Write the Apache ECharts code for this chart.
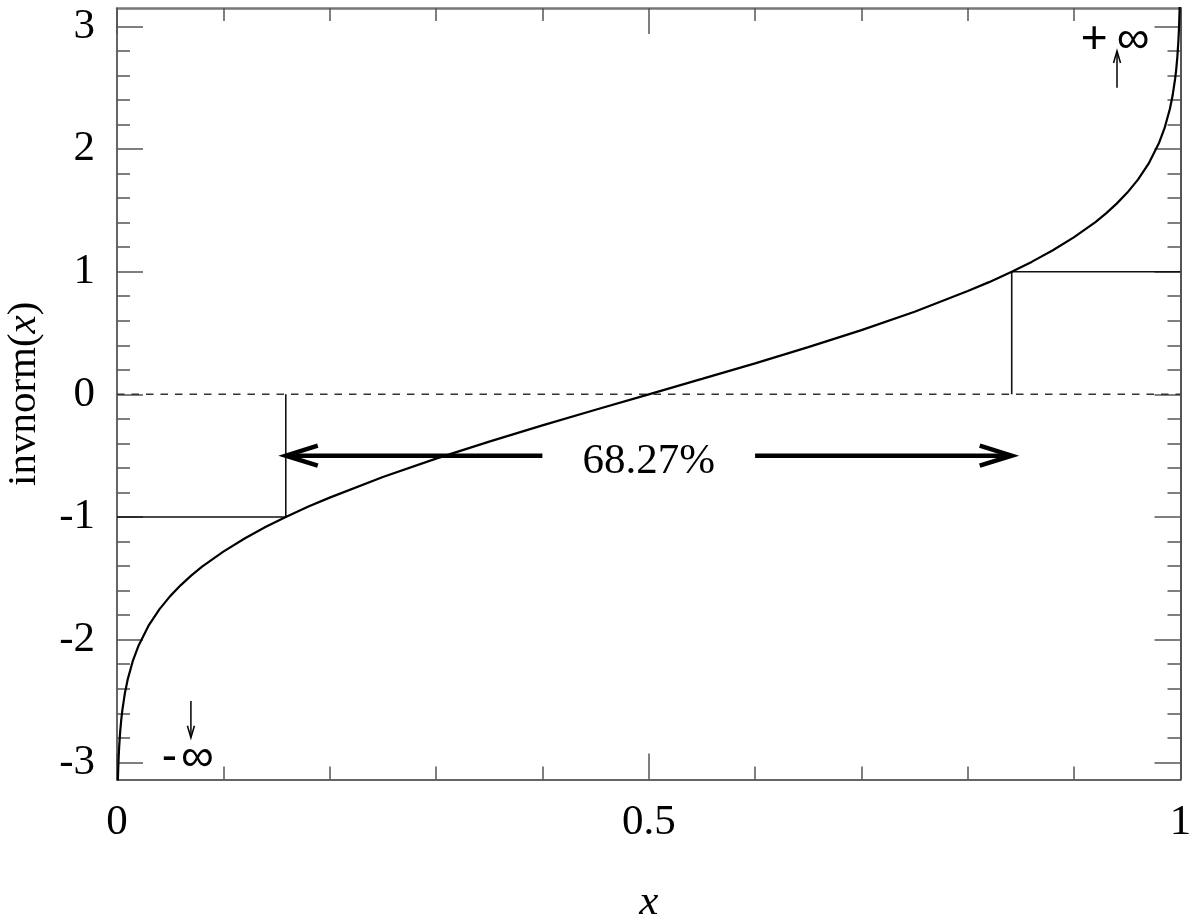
<!DOCTYPE html>
<html>
<head>
<meta charset="utf-8">
<script src="https://cdn.jsdelivr.net/npm/echarts@6/dist/echarts.min.js"></script>
<style>
  html, body { margin: 0; background: #fff; }
  #main { width: 1200px; height: 920px; }
</style>
</head>
<body>
<div id="main"></div>
<script>
  // curve
  const curveX = [0.0005, 0.0008, 0.001, 0.0015, 0.002, 0.003, 0.004, 0.005, 0.0075, 0.01, 0.015, 0.02,
    0.03, 0.04, 0.05, 0.06, 0.07, 0.08, 0.1, 0.12, 0.14, 0.1587, 0.18, 0.2, 0.25, 0.3, 0.35, 0.4, 0.45,
    0.5, 0.55, 0.6, 0.65, 0.7, 0.75, 0.8, 0.82, 0.8413, 0.86, 0.88, 0.9, 0.92, 0.93, 0.94, 0.95, 0.96,
    0.97, 0.98, 0.985, 0.99, 0.9925, 0.995, 0.996, 0.997, 0.998, 0.9985, 0.999, 0.9992, 0.9995];
  const curveY = [-3.29, -3.156, -3.09, -2.968, -2.878, -2.748, -2.652, -2.576, -2.432, -2.326, -2.17, -2.054,
    -1.881, -1.751, -1.645, -1.555, -1.476, -1.405, -1.282, -1.175, -1.08, -1.0, -0.915, -0.842, -0.674, -0.524, -0.385, -0.253, -0.126,
    0, 0.126, 0.253, 0.385, 0.524, 0.674, 0.842, 0.915, 1.0, 1.08, 1.175, 1.282, 1.405, 1.476, 1.555, 1.645, 1.751,
    1.881, 2.054, 2.17, 2.326, 2.432, 2.576, 2.652, 2.748, 2.878, 2.968, 3.09, 3.156, 3.29];

  const xMinorTicks = [0, 0.1, 0.2, 0.3, 0.4, 0.5, 0.6, 0.7, 0.8, 0.9, 1];
  const xMajorTicks = [0, 0.5, 1];
  const xLabels = [0, 0.5, 1];
  const yMajorTicks = [-3, -2, -1, 0, 1, 2, 3];
  const yMinorTicks = [-3, -2.8, -2.6, -2.4, -2.2, -2, -1.8, -1.6, -1.4, -1.2, -1, -0.8, -0.6, -0.4, -0.2, 0,
    0.2, 0.4, 0.6, 0.8, 1, 1.2, 1.4, 1.6, 1.8, 2, 2.2, 2.4, 2.6, 2.8, 3];
  const yMin = -3.14, yMax = 3.15;

  // one-sigma guides
  const zeroLineX = [0, 1];
  const leftGuideX = [0, 0.1587, 0.1587];
  const leftGuideY = [-1, -1, 0];
  const rightGuideX = [0.8413, 0.8413, 1];
  const rightGuideY = [0, 1, 1];

  // 68.27% band arrows: start x, tip x, at y
  const bandArrowFrom = [0.4, 0.6];
  const bandArrowTo = [0.1587, 0.8413];
  const bandArrowY = -0.5;
  const bandText = '68.27%';

  // infinity markers
  const infText = ['-\u200A∞', '+\u2009∞'];
  const infArrowX = [0.0695, 0.9403];
  const infArrowFrom = [-2.5, 2.5];
  const infArrowTo = [-2.8, 2.8];
  const infTextX = [0.0665, 0.9385];
  const infTextY = [-2.965, 2.885];

  const serif = '"Liberation Serif", "Times New Roman", serif';
  const pair = (xs, ys) => xs.map((x, i) => [x, ys[i]]);

  function arrowSeries(data, width, headLen, headHalf) {
    return {
      type: 'custom',
      coordinateSystem: 'cartesian2d',
      silent: true,
      z: 6,
      encode: { x: [0, 2], y: [1, 3] },
      data: data,
      renderItem: function (params, api) {
        const a = api.coord([api.value(0), api.value(1)]);
        const b = api.coord([api.value(2), api.value(3)]);
        const dx = b[0] - a[0], dy = b[1] - a[1];
        const len = Math.sqrt(dx * dx + dy * dy);
        const ux = dx / len, uy = dy / len;
        const p1 = [b[0] - ux * headLen - uy * headHalf, b[1] - uy * headLen + ux * headHalf];
        const p2 = [b[0] - ux * headLen + uy * headHalf, b[1] - uy * headLen - ux * headHalf];
        return {
          type: 'group',
          children: [
            { type: 'line', shape: { x1: a[0], y1: a[1], x2: b[0] - ux * width * 0.5, y2: b[1] - uy * width * 0.5 },
              style: { stroke: '#000', lineWidth: width } },
            { type: 'polyline', shape: { points: [p1, b, p2] },
              style: { stroke: '#000', fill: null, lineWidth: width, lineJoin: 'miter' } }
          ]
        };
      }
    };
  }

  function textSeries(data, fontFamily, fontSize, dy) {
    return {
      type: 'custom',
      coordinateSystem: 'cartesian2d',
      silent: true,
      z: 7,
      data: data,
      renderItem: function (params, api) {
        const p = api.coord([api.value(0), api.value(1)]);
        return {
          type: 'text',
          x: p[0], y: p[1] + dy,
          style: { text: data[params.dataIndex][2], fill: '#000', fontFamily: fontFamily, fontSize: fontSize,
            align: 'center', verticalAlign: 'middle' }
        };
      }
    };
  }

  const tickLine = { color: '#555', width: 1.5 };
  const baseX = { type: 'value', min: 0, max: 1, splitLine: { show: false } };
  const baseY = { type: 'value', min: yMin, max: yMax, splitLine: { show: false } };

  let myChart = echarts.init(document.getElementById('main'));
  let option = {
    animation: false,
    backgroundColor: '#fff',
    grid: { left: 117, right: 19.5, top: 8, bottom: 140.5, containLabel: false, outerBoundsMode: 'none' },
    xAxis: [
      { ...baseX, position: 'bottom',
        axisLine: { onZero: false, lineStyle: { color: '#333', width: 1.5 } },
        axisTick: { inside: true, length: 13, customValues: xMinorTicks, lineStyle: tickLine },
        axisLabel: { customValues: xLabels, color: '#000', fontFamily: serif, fontSize: 43, margin: 22 },
        name: 'x', nameLocation: 'middle', nameGap: 102,
        nameTextStyle: { color: '#000', fontFamily: serif, fontSize: 43, fontStyle: 'italic' } },
      { ...baseX, position: 'bottom', axisLine: { show: false, onZero: false },
        axisTick: { inside: true, length: 26, customValues: xMajorTicks, lineStyle: tickLine },
        axisLabel: { show: false } },
      { ...baseX, position: 'top',
        axisLine: { onZero: false, lineStyle: { color: '#777', width: 2.5 } },
        axisTick: { inside: true, length: 13, customValues: xMinorTicks, lineStyle: tickLine },
        axisLabel: { show: false } },
      { ...baseX, position: 'top', axisLine: { show: false, onZero: false },
        axisTick: { inside: true, length: 26, customValues: xMajorTicks, lineStyle: tickLine },
        axisLabel: { show: false } }
    ],
    yAxis: [
      { ...baseY, position: 'left',
        axisLine: { onZero: false, lineStyle: { color: '#333', width: 1.5 } },
        axisTick: { inside: true, length: 26, customValues: yMajorTicks, lineStyle: tickLine },
        axisLabel: { customValues: yMajorTicks, color: '#000', fontFamily: serif, fontSize: 43, margin: 22 },
        name: '{a|invnorm(}{b|x}{a|)}', nameLocation: 'middle', nameGap: 72, nameRotate: 90,
        nameTextStyle: { rich: {
          a: { color: '#000', fontFamily: serif, fontSize: 41 },
          b: { color: '#000', fontFamily: serif, fontSize: 41, fontStyle: 'italic' } } } },
      { ...baseY, position: 'left', axisLine: { show: false, onZero: false },
        axisTick: { inside: true, length: 13, customValues: yMinorTicks, lineStyle: tickLine },
        axisLabel: { show: false } },
      { ...baseY, position: 'right',
        axisLine: { onZero: false, lineStyle: { color: '#555', width: 2 } },
        axisTick: { inside: true, length: 26, customValues: yMajorTicks, lineStyle: tickLine },
        axisLabel: { show: false } },
      { ...baseY, position: 'right', axisLine: { show: false, onZero: false },
        axisTick: { inside: true, length: 13, customValues: yMinorTicks, lineStyle: tickLine },
        axisLabel: { show: false } }
    ],
    series: [
      { type: 'line', data: pair(zeroLineX, [0, 0]), showSymbol: false, silent: true,
        lineStyle: { color: '#333', width: 1.5, type: [7.5, 7] } },
      { type: 'line', data: pair(leftGuideX, leftGuideY), showSymbol: false, silent: true,
        lineStyle: { color: '#111', width: 1.6 } },
      { type: 'line', data: pair(rightGuideX, rightGuideY), showSymbol: false, silent: true,
        lineStyle: { color: '#111', width: 1.6 } },
      { type: 'line', data: pair(curveX, curveY), showSymbol: false, silent: true, z: 4,
        lineStyle: { color: '#000', width: 2.2 } },
      arrowSeries(bandArrowFrom.map((x, i) => [x, bandArrowY, bandArrowTo[i], bandArrowY]), 4.5, 32, 10),
      arrowSeries(infArrowX.map((x, i) => [x, infArrowFrom[i], x, infArrowTo[i]]), 1.5, 12, 3.5),
      textSeries([[0.5, bandArrowY, bandText]], serif, 43, 6),
      textSeries(infTextX.map((x, i) => [x, infTextY[i], infText[i]]), '"Liberation Sans", sans-serif', 46, 0)
    ]
  };
  myChart.setOption(option);
</script>
</body>
</html>
